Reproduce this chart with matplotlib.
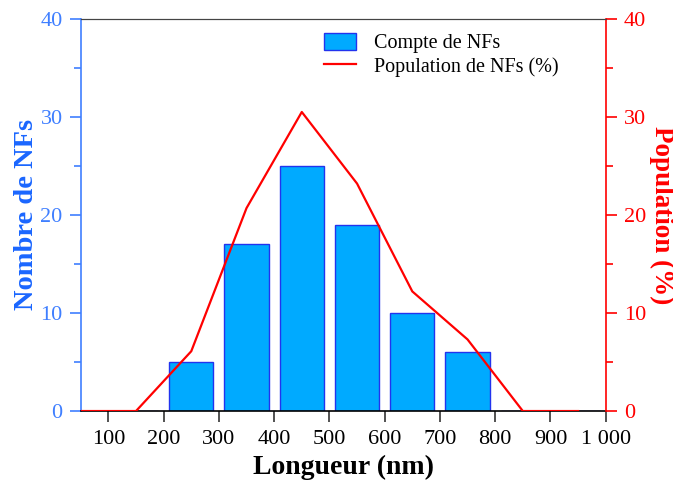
import numpy as np
import matplotlib.pyplot as plt
from matplotlib.ticker import MultipleLocator, FuncFormatter

plt.rcParams['font.family'] = ['Liberation Serif', 'DejaVu Serif']

centres = [50, 150, 250, 350, 450, 550, 650, 750, 850, 950]
compte = [0, 0, 5, 17, 25, 19, 10, 6, 0, 0]
population = [0, 0, 6.1, 20.7, 30.5, 23.2, 12.2, 7.3, 0, 0]
xticks = [100, 200, 300, 400, 500, 600, 700, 800, 900, 1000]

bleu = '#3f7fff'
rouge = '#ff0000'

fig = plt.figure(figsize=(6.73, 4.83), dpi=100)
ax = fig.add_axes([0.120, 0.149, 0.780, 0.812])
ax2 = ax.twinx()

b = ax.bar(centres, compte, width=80, color='#00aaff', edgecolor='#2233ee',
           linewidth=1.0, label='Compte de NFs')
l, = ax2.plot(centres, population, color=rouge, lw=1.6, label='Population de NFs (%)')

ax.set_xlim(50, 1000)
ax.set_ylim(0, 40)
ax2.set_ylim(0, 40)

ax.set_xticks(xticks)
ax.xaxis.set_major_formatter(FuncFormatter(lambda v, p: f'{int(v):,}'.replace(',', ' ')))
ax.yaxis.set_major_locator(MultipleLocator(10))
ax.yaxis.set_minor_locator(MultipleLocator(5))
ax2.yaxis.set_major_locator(MultipleLocator(10))
ax2.yaxis.set_minor_locator(MultipleLocator(5))

ax.tick_params(axis='x', direction='out', length=8, width=1.2, colors='#333333',
               labelsize=16, labelcolor='black', pad=6)
ax.tick_params(axis='y', which='both', direction='out', colors=bleu, labelsize=16,
               width=1.2, pad=5)
ax.tick_params(axis='y', which='major', length=8)
ax.tick_params(axis='y', which='minor', length=5)
ax2.tick_params(axis='y', which='both', direction='out', colors=rouge, labelsize=16,
                width=1.2, pad=5)
ax2.tick_params(axis='y', which='major', length=8)
ax2.tick_params(axis='y', which='minor', length=5)

ax.spines['left'].set_color(bleu)
ax.spines['left'].set_linewidth(1.2)
ax2.spines['left'].set_visible(False)
ax2.spines['right'].set_color(rouge)
ax2.spines['right'].set_linewidth(1.2)
ax.spines['right'].set_visible(False)
ax.spines['top'].set_color('#444444')
ax2.spines['top'].set_color('#444444')
ax.spines['bottom'].set_color('black')
ax.spines['bottom'].set_linewidth(1.2)
ax2.spines['bottom'].set_visible(False)

ax.set_xlabel('Longueur (nm)', fontsize=20, fontweight='bold', labelpad=4)
ax.set_ylabel('Nombre de NFs', fontsize=20.5, fontweight='bold', color='#1a66ff', labelpad=1)
ax2.set_ylabel('Population (%)', fontsize=19.5, fontweight='bold', color=rouge,
               rotation=270, labelpad=20)

ax2.legend([b, l], ['Compte de NFs', 'Population de NFs (%)'], loc='upper left',
           bbox_to_anchor=(0.44, 0.995), frameon=False, fontsize=14.5,
           handlelength=1.6, handleheight=0.9, labelspacing=0.15, borderaxespad=0.2,
           handletextpad=0.9)

fig.savefig('out.png', dpi=100)
